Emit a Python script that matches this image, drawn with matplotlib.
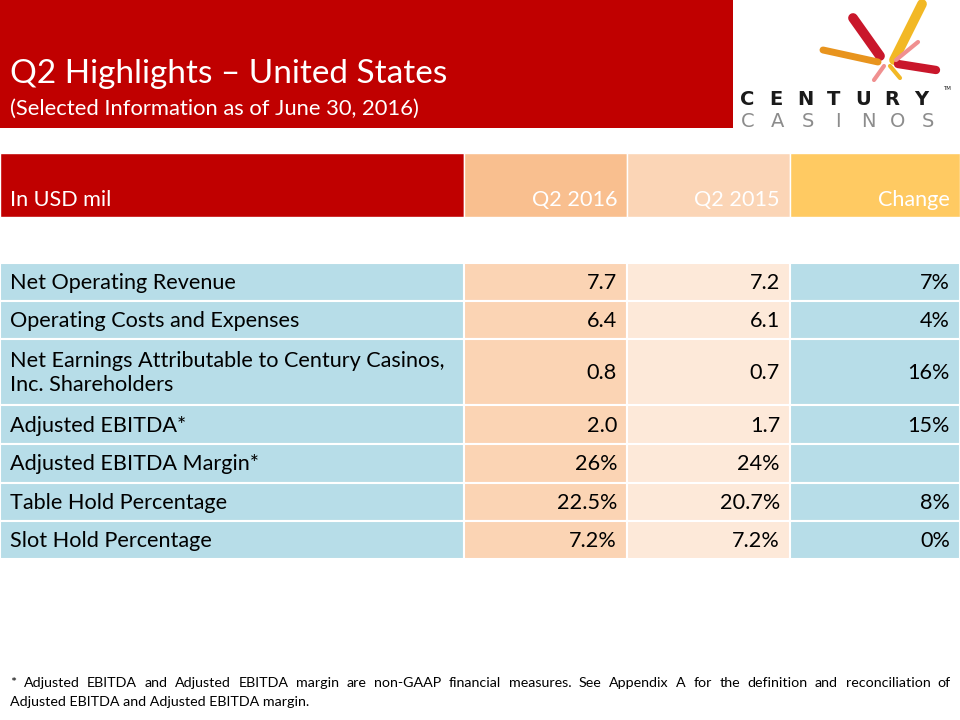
import matplotlib
matplotlib.use("Agg")
import matplotlib.pyplot as plt
from matplotlib.patches import Rectangle

# ---- data ----
title = "Q2 Highlights \u2013 United States"
subtitle = "(Selected Information as of June 30, 2016)"
header = ["In USD mil", "Q2 2016", "Q2 2015", "Change"]
row_labels = [
    "Net Operating Revenue",
    "Operating Costs and Expenses",
    "Net Earnings Attributable to Century Casinos,\nInc. Shareholders",
    "Adjusted EBITDA*",
    "Adjusted EBITDA Margin*",
    "Table Hold Percentage",
    "Slot Hold Percentage",
]
q2_2016 = ["7.7", "6.4", "0.8", "2.0", "26%", "22.5%", "7.2%"]
q2_2015 = ["7.2", "6.1", "0.7", "1.7", "24%", "20.7%", "7.2%"]
change = ["7%", "4%", "16%", "15%", "", "8%", "0%"]
footnote = ("* Adjusted EBITDA and Adjusted EBITDA margin are non-GAAP financial measures. "
            "See Appendix A for the definition and reconciliation of "
            "Adjusted EBITDA and Adjusted EBITDA margin.")
logo_top = "CENTURY"
logo_bottom = "CASINOS"

# ---- style ----
FONT = "Lato"
RED = "#C00000"
head_colors = [RED, "#F9BF8F", "#FBD5B6", "#FFCA62"]
body_colors = ["#B7DDE8", "#FBD4B4", "#FDE9D9", "#B7DDE8"]
col_x = [0, 464, 627, 790, 960]
row_h = [38, 38, 66, 39, 39, 38, 38]
FS = 15.6

fig = plt.figure(figsize=(9.6, 7.2), dpi=100, facecolor="white")
ax = fig.add_axes([0, 0, 1, 1])
ax.set_xlim(0, 960)
ax.set_ylim(720, 0)
ax.axis("off")

# title band
ax.add_patch(Rectangle((0, 0), 733, 128, color=RED, lw=0))
ax.text(10, 74, title, color="white", fontsize=24, family=FONT, va="center")
ax.text(10, 109, subtitle, color="white", fontsize=15.8, family=FONT, va="center")

# logo (rough) - brush strokes
cx, cy = 888, 60
strokes = [
    ((cx + 6, cy), (922, 4), "#F2B825", 7),
    ((cx - 8, cy - 4), (853, 18), "#C9172B", 7),
    ((cx - 10, cy + 2), (823, 50), "#E8941E", 5),
    ((cx + 10, cy + 4), (936, 70), "#C9172B", 6),
    ((cx + 8, cy), (918, 42), "#F09090", 3),
    ((cx - 4, cy + 6), (874, 80), "#F09090", 3),
    ((cx + 2, cy + 6), (900, 78), "#F2B825", 3),
]
for (x0, y0), (x1, y1), c, w in strokes:
    ax.plot([x0, x1], [y0, y1], color=c, lw=w, solid_capstyle="round")
for k, ch in enumerate(logo_top):
    ax.text(747 + k * 29, 105, ch, color="#1A1A1A", fontsize=14, family="DejaVu Sans",
            fontweight="bold", ha="center", va="baseline")
for k, ch in enumerate(logo_bottom):
    ax.text(748 + k * 30, 127, ch, color="#8C8C8C", fontsize=14, family="DejaVu Sans",
            ha="center", va="baseline")
ax.text(943, 90, "TM", color="#1A1A1A", fontsize=4, family="DejaVu Sans")

# header row
top = 153
for i in range(4):
    ax.add_patch(Rectangle((col_x[i], top), col_x[i + 1] - col_x[i], 64,
                           facecolor=head_colors[i], edgecolor="white", lw=1))
    if i == 0:
        ax.text(col_x[i] + 10, top + 47, header[i], color="white", fontsize=FS,
                family=FONT, va="center")
    else:
        ax.text(col_x[i + 1] - 10, top + 47, header[i], color="white", fontsize=FS,
                family=FONT, va="center", ha="right")

# body rows
y = 263
for r, h in enumerate(row_h):
    cells = [row_labels[r], q2_2016[r], q2_2015[r], change[r]]
    for i in range(4):
        ax.add_patch(Rectangle((col_x[i], y), col_x[i + 1] - col_x[i], h,
                               facecolor=body_colors[i], edgecolor="white", lw=1.5))
        if i == 0:
            ax.text(col_x[i] + 10, y + h / 2 + 1, cells[i], fontsize=FS, family=FONT,
                    va="center", color="black", linespacing=1.3)
        else:
            ax.text(col_x[i + 1] - 10, y + h / 2 + 1, cells[i], fontsize=FS,
                    family=FONT, va="center", ha="right", color="black")
    y += h

# footnote, first line justified
fn_font = dict(fontsize=10.3, family=FONT, color="black")
words = footnote.split(" ")
split_at = words.index("of") + 1
line1, line2 = words[:split_at], words[split_at:]
fig.canvas.draw()
renderer = fig.canvas.get_renderer()
objs = [ax.text(0, 683, w, va="center", **fn_font) for w in line1]
widths = [o.get_window_extent(renderer).width for o in objs]
gap = (951 - 10 - sum(widths)) / (len(objs) - 1)
xpos = 10
for o, w in zip(objs, widths):
    o.set_x(xpos)
    xpos += w + gap
ax.text(10, 702, " ".join(line2), va="center", **fn_font)

fig.savefig("out.png", dpi=100, facecolor="white")
